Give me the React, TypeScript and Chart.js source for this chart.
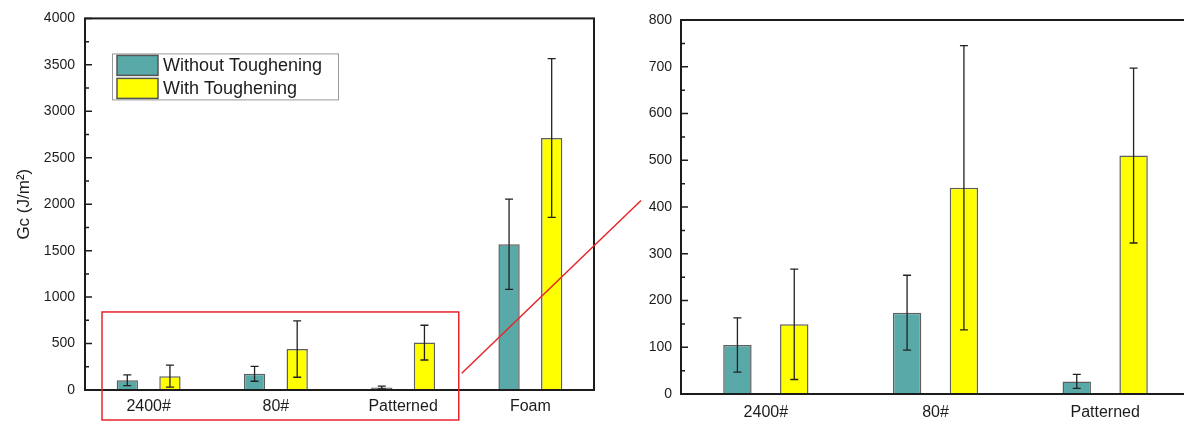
import React, { useEffect, useRef } from 'react';
import { Chart, registerables } from 'chart.js';

Chart.register(...registerables);

// ---- data ----
const categories = ['2400#', '80#', 'Patterned', 'Foam'];
const zoomCategories = ['2400#', '80#', 'Patterned'];
const seriesNames = ['Without Toughening', 'With Toughening'];
const withoutToughening = [105, 174, 27, 1569];
const withToughening = [149, 441, 510, 2713];
const withoutErr = [58, 80, 15, 485];
const withErr = [118, 304, 187, 855];
const mainAxis = { min: 0, max: 4000, step: 500 };
const zoomAxis = { min: 0, max: 800, step: 100 };
const yTitle = 'Gc (J/m\u00B2)';

const TEAL = '#58A9A8';
const YELLOW = '#FFFF00';
const FONT = "'Liberation Sans', Arial, sans-serif";
const INK = '#1c1c1c';
const RED = '#e8242c';

const errorBarPlugin = {
  id: 'errorBars',
  afterDatasetsDraw(chart: any) {
    const ctx = chart.ctx;
    const y = chart.scales.y;
    chart.data.datasets.forEach((ds: any, i: number) => {
      const meta = chart.getDatasetMeta(i);
      meta.data.forEach((el: any, j: number) => {
        const v = ds.data[j];
        const e = ds.errors[j];
        const x = el.x;
        const yt = y.getPixelForValue(v + e);
        const yb = y.getPixelForValue(v - e);
        ctx.save();
        ctx.strokeStyle = '#222';
        ctx.lineWidth = 1.3;
        ctx.beginPath();
        ctx.moveTo(x, yt);
        ctx.lineTo(x, yb);
        ctx.moveTo(x - 4, yt);
        ctx.lineTo(x + 4, yt);
        ctx.moveTo(x - 4, yb);
        ctx.lineTo(x + 4, yb);
        ctx.stroke();
        ctx.restore();
      });
    });
  },
};

const framePlugin = {
  id: 'frame',
  afterDatasetsDraw(chart: any) {
    const ctx = chart.ctx;
    const { left, right, top, bottom } = chart.chartArea;
    const y = chart.scales.y;
    ctx.save();
    ctx.strokeStyle = INK;
    ctx.lineWidth = 2;
    ctx.strokeRect(left, top, right - left, bottom - top);
    // inward ticks (major + minor)
    ctx.lineWidth = 1.5;
    const ticks = y.ticks.map((t: any) => t.value);
    ctx.beginPath();
    ticks.forEach((v: number, k: number) => {
      const py = y.getPixelForValue(v);
      ctx.moveTo(left, py);
      ctx.lineTo(left + 7, py);
      if (k < ticks.length - 1) {
        const pm = y.getPixelForValue((v + ticks[k + 1]) / 2);
        ctx.moveTo(left, pm);
        ctx.lineTo(left + 4, pm);
      }
    });
    ctx.stroke();
    ctx.restore();
  },
};

const legendPlugin = {
  id: 'boxLegend',
  afterDraw(chart: any) {
    const ctx = chart.ctx;
    const { left, top } = chart.chartArea;
    const bx = left + 27;
    const by = top + 35;
    ctx.save();
    ctx.fillStyle = '#fff';
    ctx.fillRect(bx, by, 226, 46);
    ctx.strokeStyle = '#9a9a9a';
    ctx.lineWidth = 1;
    ctx.strokeRect(bx + 0.5, by + 0.5, 226, 46);
    chart.data.datasets.forEach((ds: any, i: number) => {
      const sy = by + 2 + i * 23;
      ctx.fillStyle = ds.backgroundColor;
      ctx.fillRect(bx + 5, sy, 41, 20);
      ctx.strokeStyle = '#555';
      ctx.lineWidth = 1.5;
      ctx.strokeRect(bx + 5, sy, 41, 20);
      ctx.fillStyle = INK;
      ctx.font = `18px ${FONT}`;
      ctx.textBaseline = 'middle';
      ctx.fillText(ds.label, bx + 51, sy + 11);
    });
    ctx.restore();
  },
};

const zoomMarkPlugin = {
  id: 'zoomMark',
  afterDraw(chart: any) {
    const ctx = chart.ctx;
    const x = chart.scales.x;
    const y = chart.scales.y;
    const bl = x.left + 17;
    const br = (x.getPixelForValue(2) + x.getPixelForValue(3)) / 2 - 8;
    const bt = y.getPixelForValue(840);
    const bb = chart.height - 3;
    ctx.save();
    ctx.strokeStyle = RED;
    ctx.lineWidth = 1.5;
    ctx.strokeRect(bl, bt, br - bl, bb - bt);
    ctx.beginPath();
    ctx.moveTo(br + 3, y.getPixelForValue(180));
    ctx.lineTo(x.right + 47, y.getPixelForValue(2040));
    ctx.stroke();
    ctx.restore();
  },
};

function makeConfig(labels: string[], n: number, axis: any, opts: any): any {
  return {
    type: 'bar',
    data: {
      labels,
      datasets: [
        {
          label: seriesNames[0],
          data: withoutToughening.slice(0, n),
          errors: withoutErr.slice(0, n),
          backgroundColor: TEAL,
          borderColor: '#5f5f5f',
          borderWidth: 1.5,
        },
        {
          label: seriesNames[1],
          data: withToughening.slice(0, n),
          errors: withErr.slice(0, n),
          backgroundColor: YELLOW,
          borderColor: '#5f5f5f',
          borderWidth: 1.5,
        },
      ],
    },
    options: {
      responsive: false,
      animation: false,
      categoryPercentage: 0.67,
      barPercentage: 0.5,
      layout: { padding: opts.padding },
      plugins: { legend: { display: false }, tooltip: { enabled: false } },
      scales: {
        x: {
          grid: { display: false, drawTicks: false },
          border: { display: false },
          ticks: { color: INK, font: { family: FONT, size: 16 }, padding: opts.xPad, maxRotation: 0 },
          afterFit: (s: any) => { s.height = opts.xHeight; },
        },
        y: {
          min: axis.min,
          max: axis.max,
          grid: { display: false, drawTicks: false },
          border: { display: false },
          ticks: {
            stepSize: axis.step,
            color: INK,
            font: { family: FONT, size: 14 },
            padding: opts.yPad,
            callback: (v: any) => String(v),
          },
          title: opts.title
            ? { display: true, text: opts.title, color: INK, font: { family: FONT, size: 17 }, padding: { top: 14, bottom: 0 } }
            : { display: false },
          afterFit: (s: any) => { s.width = opts.yWidth; },
        },
      },
    },
    plugins: opts.plugins,
  };
}

export default function App() {
  const leftRef = useRef<HTMLCanvasElement>(null);
  const rightRef = useRef<HTMLCanvasElement>(null);

  useEffect(() => {
    const left = new Chart(
      leftRef.current as HTMLCanvasElement,
      makeConfig(categories, 4, mainAxis, {
        padding: { left: 0, right: 66, top: 16, bottom: 0 },
        xPad: 7,
        xHeight: 33,
        yPad: 10,
        yWidth: 85,
        title: yTitle,
        plugins: [errorBarPlugin, framePlugin, legendPlugin, zoomMarkPlugin],
      })
    );
    const right = new Chart(
      rightRef.current as HTMLCanvasElement,
      makeConfig(zoomCategories, 3, zoomAxis, {
        padding: { left: 0, right: 10, top: 20, bottom: 0 },
        xPad: 9,
        xHeight: 29,
        yPad: 9,
        yWidth: 81,
        title: null,
        plugins: [errorBarPlugin, framePlugin],
      })
    );
    return () => {
      left.destroy();
      right.destroy();
    };
  }, []);

  return (
    <div style={{ position: 'fixed', left: 0, top: 0, width: 1184, height: 423, overflow: 'hidden', background: '#fff' }}>
      <canvas ref={leftRef} width={660} height={423} style={{ position: 'absolute', left: 0, top: 0, width: 660, height: 423 }} />
      <canvas ref={rightRef} width={600} height={423} style={{ position: 'absolute', left: 600, top: 0, width: 600, height: 423 }} />
    </div>
  );
}
